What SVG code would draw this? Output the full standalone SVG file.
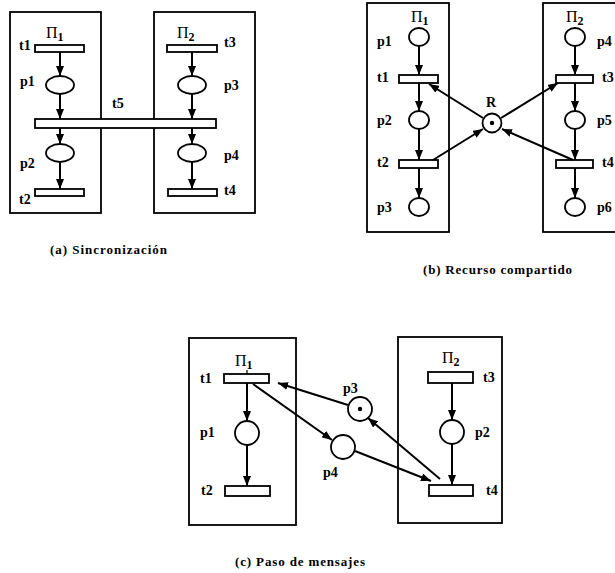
<svg xmlns="http://www.w3.org/2000/svg" width="615" height="573" viewBox="0 0 615 573">
<defs>
<marker id="arr" markerWidth="10" markerHeight="8" refX="10" refY="4" orient="auto" markerUnits="userSpaceOnUse"><path d="M0,0 L10,4 L0,8 z" fill="#000"/></marker>
</defs>
<style>
.box{fill:none;stroke:#000;stroke-width:1.8}
.pl{fill:#fff;stroke:#000;stroke-width:1.8}
.tr{fill:#fff;stroke:#000;stroke-width:1.8}
.arc{stroke:#000;stroke-width:2;fill:none;marker-end:url(#arr)}
.tok{fill:#000}
text{font-family:"Liberation Serif","Times New Roman",serif;font-weight:bold;font-size:14px;fill:#000}
.cap{font-size:13px}
.pi{font-size:16px;font-weight:normal}
.sub{font-size:12px;font-weight:bold}
</style>
<rect width="615" height="573" fill="#fff"/>

<!-- (a) Sincronización -->
<g id="a-proc1"><rect class="box" x="10" y="12" width="91" height="201"/><text class="pi" x="46" y="38">Π<tspan class="sub" dy="3">1</tspan></text></g>
<g id="a-proc2"><rect class="box" x="154" y="12" width="101" height="201"/><text class="pi" x="177" y="38">Π<tspan class="sub" dy="3">2</tspan></text></g>
<g id="a-t1"><rect class="tr" x="35" y="45" width="49" height="7"/><text x="19" y="50">t1</text></g>
<g id="a-p1"><ellipse class="pl" cx="60" cy="85" rx="14" ry="9"/><text x="20" y="86">p1</text></g>
<g id="a-t5"><rect class="tr" x="35" y="119" width="181" height="9"/><text x="112" y="108">t5</text></g>
<g id="a-p2"><ellipse class="pl" cx="60" cy="153" rx="14" ry="9"/><text x="20" y="168">p2</text></g>
<g id="a-t2"><rect class="tr" x="35" y="189" width="49" height="7"/><text x="19" y="204">t2</text></g>
<g id="a-t3"><rect class="tr" x="167" y="45" width="50" height="7"/><text x="224" y="47">t3</text></g>
<g id="a-p3"><ellipse class="pl" cx="192" cy="85" rx="14" ry="9"/><text x="224" y="90">p3</text></g>
<g id="a-p4"><ellipse class="pl" cx="192" cy="153" rx="14" ry="9"/><text x="224" y="160">p4</text></g>
<g id="a-t4"><rect class="tr" x="168" y="189" width="49" height="7"/><text x="224" y="195">t4</text></g>
<text class="cap" x="50" y="254" textLength="117" lengthAdjust="spacing">(a) Sincronización</text>

<!-- (b) Recurso compartido -->
<g id="b-proc1"><rect class="box" x="367" y="3" width="82" height="229"/><text class="pi" x="411" y="22">Π<tspan class="sub" dy="3">1</tspan></text></g>
<g id="b-proc2"><rect class="box" x="543" y="3" width="80" height="229"/><text class="pi" x="566" y="22">Π<tspan class="sub" dy="3">2</tspan></text></g>
<g id="b-p1"><ellipse class="pl" cx="419" cy="37" rx="10" ry="9"/><text x="377" y="46">p1</text></g>
<g id="b-t1"><rect class="tr" x="399" y="75" width="39" height="8"/><text x="377" y="82">t1</text></g>
<g id="b-p2"><ellipse class="pl" cx="419" cy="120" rx="10" ry="9"/><text x="377" y="125">p2</text></g>
<g id="b-t2"><rect class="tr" x="399" y="160" width="39" height="8"/><text x="377" y="167">t2</text></g>
<g id="b-p3"><ellipse class="pl" cx="419" cy="207" rx="10" ry="9"/><text x="377" y="212">p3</text></g>
<g id="b-R"><circle class="pl" cx="492" cy="123" r="9.5"/><circle class="tok" cx="492" cy="123" r="2.2"/><text x="486" y="107">R</text></g>
<g id="b-p4"><ellipse class="pl" cx="575" cy="37" rx="10" ry="9"/><text x="597" y="46">p4</text></g>
<g id="b-t3"><rect class="tr" x="556" y="75" width="37" height="8"/><text x="602" y="82">t3</text></g>
<g id="b-p5"><ellipse class="pl" cx="575" cy="120" rx="10" ry="9"/><text x="597" y="125">p5</text></g>
<g id="b-t4"><rect class="tr" x="556" y="160" width="37" height="8"/><text x="602" y="167">t4</text></g>
<g id="b-p6"><ellipse class="pl" cx="575" cy="207" rx="10" ry="9"/><text x="597" y="212">p6</text></g>
<text class="cap" x="423" y="274" textLength="149" lengthAdjust="spacing">(b) Recurso compartido</text>

<!-- (c) Paso de mensajes -->
<g id="c-proc1"><rect class="box" x="189" y="338" width="107" height="187"/><text class="pi" x="235" y="366">Π<tspan class="sub" dy="3">1</tspan></text><path d="M247,370 V374" stroke="#000" stroke-width="1.2"/></g>
<g id="c-proc2"><rect class="box" x="398" y="337" width="104" height="186"/><text class="pi" x="442" y="363">Π<tspan class="sub" dy="3">2</tspan></text></g>
<g id="c-t1"><rect class="tr" x="224" y="374" width="45" height="9"/><text x="200" y="383">t1</text></g>
<g id="c-p1"><circle class="pl" cx="247" cy="433" r="12"/><text x="200" y="437">p1</text></g>
<g id="c-t2"><rect class="tr" x="225" y="486" width="45" height="10"/><text x="201" y="495">t2</text></g>
<g id="c-p3"><circle class="pl" cx="360" cy="409" r="12"/><circle class="tok" cx="360" cy="409" r="2.2"/><text x="343" y="393">p3</text></g>
<g id="c-p4"><circle class="pl" cx="343" cy="447" r="12"/><text x="323" y="477">p4</text></g>
<g id="c-t3"><rect class="tr" x="428" y="372" width="45" height="11"/><text x="483" y="382">t3</text></g>
<g id="c-p2"><circle class="pl" cx="452" cy="432" r="12"/><text x="475" y="437">p2</text></g>
<g id="c-t4"><rect class="tr" x="429" y="485" width="44" height="11"/><text x="486" y="495">t4</text></g>
<text class="cap" x="235" y="566" textLength="130" lengthAdjust="spacing">(c) Paso de mensajes</text>

<g id="connectors">
<!-- (a) -->
<line class="arc" x1="60" y1="52" x2="60" y2="76"/>
<line class="arc" x1="60" y1="94" x2="60" y2="119"/>
<line class="arc" x1="60" y1="128" x2="60" y2="144"/>
<line class="arc" x1="60" y1="162" x2="60" y2="189"/>
<line class="arc" x1="192" y1="52" x2="192" y2="76"/>
<line class="arc" x1="192" y1="94" x2="192" y2="119"/>
<line class="arc" x1="192" y1="128" x2="192" y2="144"/>
<line class="arc" x1="192" y1="162" x2="192" y2="189"/>
<!-- (b) -->
<line class="arc" x1="419" y1="46" x2="419" y2="75"/>
<line class="arc" x1="419" y1="83" x2="419" y2="111"/>
<line class="arc" x1="419" y1="129" x2="419" y2="160"/>
<line class="arc" x1="419" y1="168" x2="419" y2="198"/>
<line class="arc" x1="575" y1="46" x2="575" y2="75"/>
<line class="arc" x1="575" y1="83" x2="575" y2="111"/>
<line class="arc" x1="575" y1="129" x2="575" y2="160"/>
<line class="arc" x1="575" y1="168" x2="575" y2="198"/>
<line class="arc" x1="483" y1="118" x2="429" y2="84"/>
<line class="arc" x1="433" y1="160" x2="483" y2="129"/>
<line class="arc" x1="501" y1="118" x2="558" y2="83"/>
<line class="arc" x1="573" y1="160" x2="502" y2="129"/>
<!-- (c) -->
<line class="arc" x1="247" y1="383" x2="247" y2="421"/>
<line class="arc" x1="247" y1="445" x2="247" y2="486"/>
<line class="arc" x1="452" y1="383" x2="452" y2="420"/>
<line class="arc" x1="452" y1="444" x2="452" y2="485"/>
<line class="arc" x1="348" y1="405" x2="278" y2="383"/>
<line class="arc" x1="253" y1="384" x2="332" y2="440"/>
<line class="arc" x1="355" y1="451" x2="431" y2="481"/>
<line class="arc" x1="440" y1="479" x2="368" y2="418"/>
</g>
</svg>
